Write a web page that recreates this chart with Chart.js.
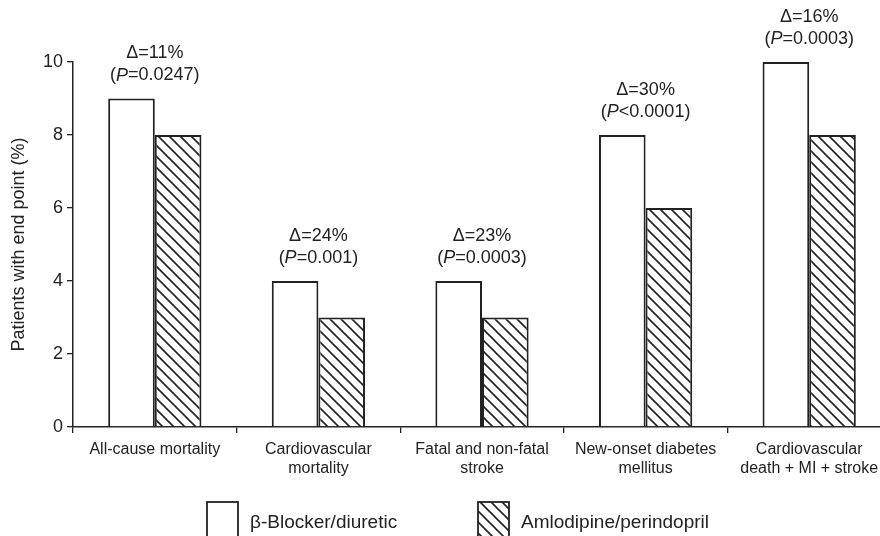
<!DOCTYPE html>
<html>
<head>
<meta charset="utf-8">
<script src="https://cdn.jsdelivr.net/npm/chart.js@4"></script>
<style>
  html, body { margin: 0; padding: 0; background: #fff; overflow: hidden; }
  #wrap { width: 880px; height: 536px; overflow: hidden; }
</style>
</head>
<body>
<div id="wrap"><canvas id="chart-end-points" width="891" height="536"></canvas></div>
<script>
// End point rates by treatment arm
const categories = [
    'All-cause mortality',
    ['Cardiovascular', 'mortality'],
    ['Fatal and non-fatal', 'stroke'],
    ['New-onset diabetes', 'mellitus'],
    ['Cardiovascular', 'death + MI + stroke']
];
const betaBlocker = [9, 4, 4, 8, 10];
const amlodipine = [8, 3, 3, 6, 8];
const deltas = ['11%', '24%', '23%', '30%', '16%'];
const pValues = ['=0.0247', '=0.001', '=0.0003', '<0.0001', '=0.0003'];
const yTicks = [0, 2, 4, 6, 8, 10];

const INK = '#222';
const FONT = '"Liberation Sans", Arial, sans-serif';

// diagonal hatch pattern (top-left to bottom-right)
function makeHatch() {
    const s = 11;
    const c = document.createElement('canvas');
    c.width = s; c.height = s;
    const g = c.getContext('2d');
    g.fillStyle = '#fff';
    g.fillRect(0, 0, s, s);
    g.strokeStyle = INK;
    g.lineWidth = 1.6;
    g.beginPath();
    g.moveTo(-1, -1); g.lineTo(s + 1, s + 1);
    g.moveTo(-2, s - 2); g.lineTo(2, s + 2);
    g.moveTo(s - 2, -2); g.lineTo(s + 2, 2);
    g.stroke();
    return g.createPattern(c, 'repeat');
}
const hatch = makeHatch();

// Delta / P annotations above each pair of bars
const annotations = {
    id: 'annotations',
    afterDatasetsDraw(chart) {
        const ctx = chart.ctx;
        const xs = chart.scales.x, ys = chart.scales.y;
        const size = '18px ';
        ctx.save();
        ctx.fillStyle = INK;
        ctx.textBaseline = 'middle';
        categories.forEach(function (c, i) {
            const x = xs.getPixelForValue(i);
            const top = ys.getPixelForValue(Math.max(betaBlocker[i], amlodipine[i]));
            ctx.font = size + FONT;
            ctx.textAlign = 'center';
            ctx.fillText('\u0394=' + deltas[i], x, top - 45);
            // second line with italic P
            const parts = [['(', size], ['P', 'italic ' + size], [pValues[i] + ')', size]];
            let w = 0;
            parts.forEach(function (p) { ctx.font = p[1] + FONT; w += ctx.measureText(p[0]).width; });
            let cx = x - w / 2;
            ctx.textAlign = 'left';
            parts.forEach(function (p) {
                ctx.font = p[1] + FONT;
                ctx.fillText(p[0], cx, top - 23);
                cx += ctx.measureText(p[0]).width;
            });
        });
        ctx.restore();
    }
};

// Legend drawn under the axis
const bottomLegend = {
    id: 'bottomLegend',
    afterDraw(chart) {
        const ctx = chart.ctx;
        const items = [
            { x: 207, fill: '#fff', label: chart.data.datasets[0].label },
            { x: 478, fill: hatch, label: chart.data.datasets[1].label }
        ];
        ctx.save();
        items.forEach(function (it) {
            ctx.fillStyle = it.fill;
            ctx.fillRect(it.x, 502, 31, 42);
            ctx.strokeStyle = INK;
            ctx.lineWidth = 1.8;
            ctx.strokeRect(it.x, 502, 31, 42);
            ctx.fillStyle = INK;
            ctx.font = '19px ' + FONT;
            ctx.textBaseline = 'middle';
            ctx.textAlign = 'left';
            ctx.fillText(it.label, it.x + 43, 523);
        });
        ctx.restore();
    }
};

new Chart(document.getElementById('chart-end-points'), {
    type: 'bar',
    data: {
        labels: categories,
        datasets: [{
            label: '\u03B2-Blocker/diuretic',
            data: betaBlocker,
            backgroundColor: '#fff',
            borderColor: INK,
            borderWidth: 2,
        }, {
            label: 'Amlodipine/perindopril',
            data: amlodipine,
            backgroundColor: hatch,
            borderColor: INK,
            borderWidth: 2,
        }]
    },
    options: {
        responsive: false,
        animation: false,
        devicePixelRatio: 1,
        categoryPercentage: 0.57,
        barPercentage: 1.0,
        layout: { padding: { top: 62, left: 0, right: 0, bottom: 0 } },
        plugins: {
            legend: { display: false },
            tooltip: { enabled: false }
        },
        scales: {
            x: {
                grid: { drawOnChartArea: false, tickLength: 6, color: INK, lineWidth: 1.3 },
                border: { color: INK, width: 1.5 },
                ticks: {
                    color: INK,
                    maxRotation: 0,
                    autoSkip: false,
                    padding: 7,
                    font: { family: FONT, size: 16, lineHeight: 1.2 }
                },
                afterFit(scale) { scale.height = 109; }
            },
            y: {
                min: 0,
                max: 10,
                afterBuildTicks(scale) { scale.ticks = yTicks.map(v => ({ value: v })); },
                grid: { drawOnChartArea: false, tickLength: 6, color: INK, lineWidth: 1.3 },
                border: { color: INK, width: 1.5 },
                ticks: {
                    color: INK,
                    padding: 4,
                    font: { family: FONT, size: 18 }
                },
                title: {
                    display: true,
                    text: 'Patients with end point (%)',
                    color: INK,
                    padding: { top: 8, bottom: 0 },
                    font: { family: FONT, size: 18 }
                },
                afterFit(scale) { scale.width = 73; }
            }
        }
    },
    plugins: [annotations, bottomLegend]
});
</script>
</body>
</html>
